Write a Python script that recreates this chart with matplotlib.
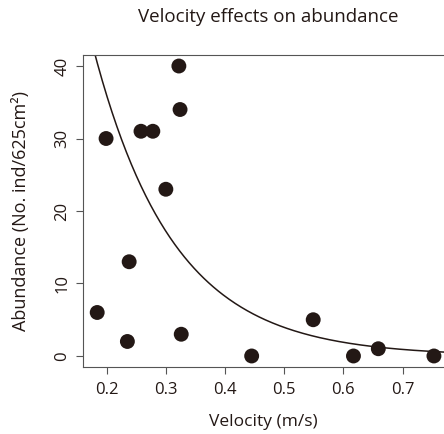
import numpy as np
import matplotlib
matplotlib.use("Agg")
import matplotlib.pyplot as plt

plt.rcParams['font.family'] = ['Open Sans', 'DejaVu Sans']

# observed points: velocity (m/s) and abundance (No. ind/625cm2)
velocity = [0.184, 0.199, 0.235, 0.238, 0.258, 0.278, 0.300, 0.322, 0.324,
            0.326, 0.445, 0.549, 0.617, 0.659, 0.753]
abundance = [6, 30, 2, 13, 31, 31, 23, 40, 34, 3, 0, 5, 0, 1, 0]

# fitted exponential decay y = a * exp(-b * x)
fit_a = 157.0
fit_b = 7.37

ink = '#231815'

fig = plt.figure(figsize=(4.44, 4.34), dpi=100)
ax = fig.add_axes([83 / 444, 1 - 367 / 434, 1 - 83 / 444, (367 - 55) / 434])

xs = np.linspace(0.16, 0.77, 300)
ax.plot(xs, fit_a * np.exp(-fit_b * xs), color=ink, lw=1.1, zorder=2)
ax.scatter(velocity, abundance, s=115, color=ink, edgecolors='none', zorder=3)

ax.set_xlim(0.16, 0.77)
ax.set_ylim(-1.52, 41.52)
ax.set_xticks([0.2, 0.3, 0.4, 0.5, 0.6, 0.7])
ax.set_xticklabels(['0.2', '0.3', '0.4', '0.5', '0.6', '0.7'])
ax.set_yticks([0, 10, 20, 30, 40])

for side in ['left', 'bottom', 'top']:
    ax.spines[side].set_color('#555555')
    ax.spines[side].set_linewidth(0.8)
ax.spines['right'].set_visible(False)

ax.tick_params(axis='both', direction='out', length=5, width=0.8,
               color='#555555', labelsize=12, labelcolor=ink)
ax.tick_params(axis='x', pad=6)
ax.tick_params(axis='y', pad=4)
for lab in ax.get_yticklabels():
    lab.set_rotation(90)
    lab.set_va('center')

ax.set_xlabel('Velocity (m/s)', fontsize=12.5, color=ink, labelpad=11)
ax.set_ylabel('Abundance (No. ind/625cm²)', fontsize=13, color=ink, labelpad=18)
fig.text(0.605, 1 - 17 / 434, 'Velocity effects on abundance', fontsize=13.5,
         color=ink, ha='center', va='center')

fig.savefig('out.png', dpi=100)
